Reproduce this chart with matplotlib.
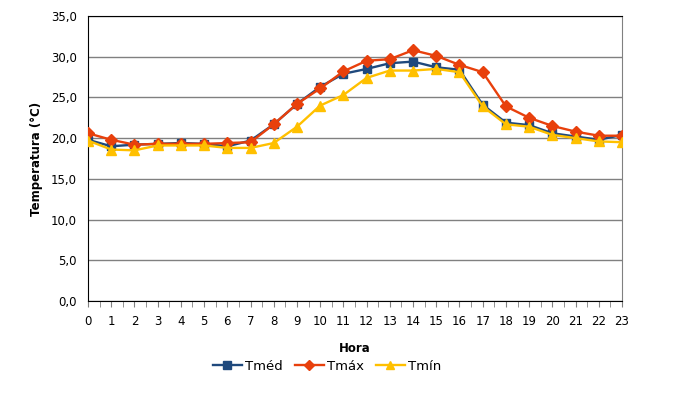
import numpy as np
import matplotlib.pyplot as plt

horas = list(range(24))
tmed = [19.8, 19.0, 19.2, 19.3, 19.4, 19.3, 19.0, 19.7, 21.7, 24.2, 26.3, 27.9,
        28.5, 29.2, 29.4, 28.7, 28.4, 24.1, 21.9, 21.6, 20.6, 20.2, 19.8, 20.4]
tmax = [20.6, 19.8, 19.2, 19.3, 19.3, 19.3, 19.4, 19.5, 21.7, 24.2, 26.1, 28.2,
        29.5, 29.7, 30.8, 30.1, 29.0, 28.1, 23.9, 22.5, 21.5, 20.8, 20.3, 20.3]
tmin = [19.7, 18.6, 18.5, 19.1, 19.1, 19.1, 18.8, 18.8, 19.4, 21.4, 24.0, 25.3,
        27.4, 28.3, 28.3, 28.5, 28.1, 23.9, 21.7, 21.4, 20.4, 20.0, 19.6, 19.5]

plt.rcParams['font.family'] = ['DejaVu Sans']
plt.rcParams['font.size'] = 8.5

fig = plt.figure(figsize=(6.75, 4.07), dpi=100)
ax = fig.add_axes([88/675, 1-301/407, (622-88)/675, (301-16)/407])

ax.plot(horas, tmed, color='#1F497D', marker='s', markersize=6, lw=1.7, label='Tméd', zorder=3)
ax.plot(horas, tmax, color='#E8400C', marker='D', markersize=6, lw=1.7, label='Tmáx', zorder=4)
ax.plot(horas, tmin, color='#FFC000', marker='^', markersize=7, lw=1.7, label='Tmín', zorder=5)

ax.set_xlim(0, 23)
ax.set_ylim(0, 35)
yt = np.arange(0, 36, 5)
ax.set_yticks(yt)
ax.set_yticklabels([('%.1f' % v).replace('.', ',') for v in yt])
ax.set_xticks(horas)
ax.set_xticks(np.arange(0.5, 23, 1), minor=True)
ax.tick_params(axis='y', length=0, pad=8)
ax.tick_params(axis='x', which='both', length=4, color='#808080', direction='out', pad=6)
ax.grid(axis='y', color='#808080', lw=1)
ax.set_axisbelow(True)

for s in ['left', 'bottom', 'top']:
    ax.spines[s].set_color('black')
ax.spines['right'].set_color('#808080')

ax.set_ylabel('Temperatura (°C)', fontweight='bold', labelpad=6)
ax.set_xlabel('Hora', fontweight='bold', labelpad=10)

fig.legend(loc='center', bbox_to_anchor=(327/675, 1-366/407), ncol=3, frameon=False,
           handlelength=2.2, columnspacing=0.9, handletextpad=0.25, fontsize=9.5,
           markerscale=0.85)

plt.savefig('out.png')
